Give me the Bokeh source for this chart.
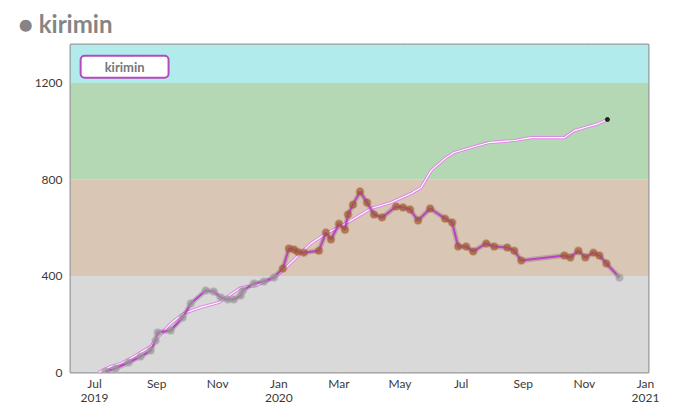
import numpy as np
from bokeh.plotting import figure
from bokeh.models import Range1d, BoxAnnotation, FixedTicker, Label, ColumnDataSource
from bokeh.embed import file_html
from bokeh.resources import INLINE

# ---- data ----
rating_dates = [
    "2019-07-12", "2019-07-22", "2019-08-04", "2019-08-16", "2019-08-26", "2019-08-31",
    "2019-09-02", "2019-09-15", "2019-09-27", "2019-10-05", "2019-10-20", "2019-10-28",
    "2019-11-04", "2019-11-11", "2019-11-17", "2019-11-24", "2019-11-26", "2019-12-07",
    "2019-12-17", "2019-12-27", "2020-01-05", "2020-01-11", "2020-01-16", "2020-01-20",
    "2020-01-26", "2020-02-10", "2020-02-17", "2020-02-22", "2020-03-01", "2020-03-07",
    "2020-03-10", "2020-03-15", "2020-03-22", "2020-03-29", "2020-04-05", "2020-04-13",
    "2020-04-27", "2020-05-04", "2020-05-11", "2020-05-19", "2020-05-31", "2020-06-15",
    "2020-06-22", "2020-06-28", "2020-07-06", "2020-07-13", "2020-07-26", "2020-08-03",
    "2020-08-16", "2020-08-23", "2020-08-30", "2020-10-12", "2020-10-18", "2020-10-26",
    "2020-11-02", "2020-11-10", "2020-11-16", "2020-11-23", "2020-12-06",
]
rating_values = [
    4, 17, 41, 66, 91, 133,
    166, 174, 228, 286, 340, 336,
    311, 303, 303, 319, 340, 369,
    377, 394, 431, 514, 510, 500,
    497, 505, 580, 551, 617, 592,
    655, 696, 750, 705, 655, 643,
    688, 684, 676, 630, 680, 638,
    622, 522, 522, 502, 535, 522,
    518, 505, 464, 485, 477, 505,
    477, 497, 485, 452, 394,
]

games_dates = [
    "2019-07-05", "2019-07-17", "2019-07-27", "2019-08-06", "2019-08-16", "2019-08-26",
    "2019-09-03", "2019-09-15", "2019-09-28", "2019-10-15", "2019-11-02", "2019-11-24",
    "2019-12-09", "2019-12-29", "2020-01-10", "2020-02-02", "2020-02-17", "2020-02-29",
    "2020-03-13", "2020-04-02", "2020-04-22", "2020-05-12", "2020-05-22", "2020-06-01",
    "2020-06-16", "2020-06-24", "2020-07-11", "2020-07-28", "2020-08-23", "2020-09-09",
    "2020-10-12", "2020-10-22", "2020-11-05", "2020-11-15", "2020-11-24",
]
games_values = [
    0, 25, 37, 58, 83, 108,
    150, 203, 245, 270, 290, 352,
    360, 398, 443, 535, 576, 601,
    630, 680, 705, 742, 767, 837,
    891, 912, 933, 953, 962, 974,
    974, 1003, 1020, 1032, 1049,
]

band_edges = [0, 400, 800, 1200, 1360]
band_colors = ["#d9d9d9", "#d9c6b4", "#b3d8b3", "#b2ebeb"]

tick_dates = ["2019-07-01", "2019-09-01", "2019-11-01", "2020-01-01", "2020-03-01",
              "2020-05-01", "2020-07-01", "2020-09-01", "2020-11-01", "2021-01-01"]
tick_labels = ["Jul\n2019", "Sep", "Nov", "Jan\n2020", "Mar", "May", "Jul", "Sep", "Nov", "Jan\n2021"]
y_ticks = [0, 400, 800, 1200]

series_name = "kirimin"


def to_ms(dates):
    return np.array(dates, dtype="datetime64[ms]").astype("int64")


rx = to_ms(rating_dates)
gx = to_ms(games_dates)
tx = [int(t) for t in to_ms(tick_dates)]

x_start, x_end = to_ms(["2019-06-07", "2021-01-04"])

FONT = "Lato"

p = figure(width=691, height=408, x_axis_type="datetime",
           x_range=Range1d(int(x_start), int(x_end)),
           y_range=Range1d(band_edges[0], band_edges[-1]),
           output_backend="svg", toolbar_location=None,
           min_border_left=70, min_border_right=43, min_border_bottom=36, min_border_top=44)

p.background_fill_color = "white"
p.border_fill_color = "white"
p.outline_line_color = "#9a9a9a"
p.outline_line_width = 2

p.title.text = "\u25cf " + series_name
p.title.text_font = FONT
p.title.text_font_size = "24px"
p.title.text_font_style = "bold"
p.title.text_color = "#858585"
p.title.offset = -52
p.title.standoff = 13

# bands
for lo, hi, col in zip(band_edges[:-1], band_edges[1:], band_colors):
    p.add_layout(BoxAnnotation(bottom=lo, top=hi, fill_color=col, fill_alpha=1.0,
                               line_alpha=0, level="underlay"))

# axes
p.xaxis.ticker = FixedTicker(ticks=tx)
p.xaxis.major_label_overrides = {t: lab for t, lab in zip(tx, tick_labels)}
p.yaxis.ticker = FixedTicker(ticks=y_ticks)
for ax in (p.xaxis[0], p.yaxis[0]):
    ax.axis_line_color = None
    ax.major_tick_line_color = None
    ax.minor_tick_line_color = None
    ax.major_tick_in = 0
    ax.major_tick_out = 0
    ax.minor_tick_in = 0
    ax.minor_tick_out = 0
    ax.major_label_text_font = FONT
    ax.major_label_text_font_size = "12px"
    ax.major_label_text_color = "#3a3a3a"
p.xaxis.major_label_standoff = 3
p.xaxis.major_label_text_line_height = 0.95
p.yaxis.major_label_standoff = 8

p.xgrid.grid_line_color = "white"
p.xgrid.grid_line_alpha = 0.8
p.xgrid.level = "underlay"
p.ygrid.grid_line_color = "white"
p.ygrid.grid_line_alpha = 0.7

# games (cumulative) line
gsrc = ColumnDataSource(dict(x=gx, y=games_values))
p.line("x", "y", source=gsrc, line_color="#df8ae6", line_width=3.2)
p.line("x", "y", source=gsrc, line_color="white", line_width=1.1)
p.scatter(x=gx[-1:], y=games_values[-1:], size=4, color="#222222")

# rating line with markers


def marker_color(v):
    return "#9a9a9a" if v < band_edges[1] else "#a0562e"


rsrc = ColumnDataSource(dict(x=rx, y=rating_values,
                             c=[marker_color(v) for v in rating_values]))
p.line("x", "y", source=rsrc, line_color="#000000", line_alpha=0.15, line_width=5)
p.line("x", "y", source=rsrc, line_color="#c03fc6", line_width=2)
p.scatter("x", "y", source=rsrc, size=7, fill_color="c", fill_alpha=0.65,
          line_color="c", line_alpha=0.3, line_width=2)

# legend-like box
lab = Label(x=int(to_ms(["2019-07-31"])[0]), y=1268, text=series_name,
            text_font=FONT, text_font_size="13px", text_font_style="bold",
            text_color="#777777", text_align="center", text_baseline="middle",
            background_fill_color="white", border_line_color="#b848c0",
            border_line_width=2, border_radius=4, padding=(24, 3))
p.add_layout(lab)

open("out.html", "w").write(file_html(p, INLINE))
